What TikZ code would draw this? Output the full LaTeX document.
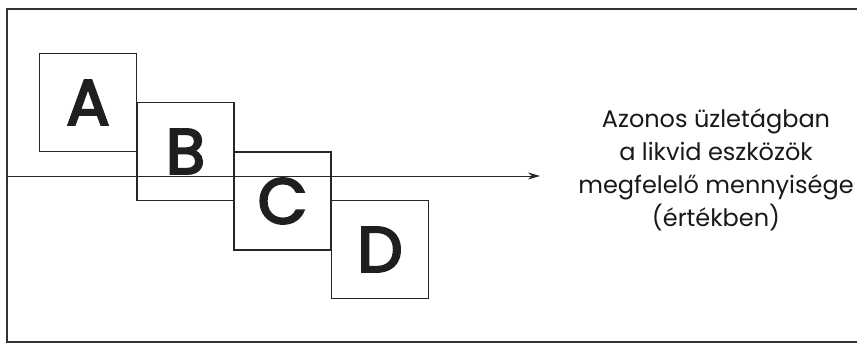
\documentclass[tikz,border=0pt]{standalone}
\usepackage{fontspec}
\setmainfont{Poppins}
\usetikzlibrary{arrows.meta}
\begin{document}
\begin{tikzpicture}[x=1pt,y=-1pt,
  sq/.style={draw=black!85,line width=1.2pt,minimum width=97pt,minimum height=98pt,inner sep=0pt,font=\fontsize{64}{64}\selectfont\addfontfeature{FakeBold=3.5},text=black!88},
  frame/.style={draw=black!80,line width=1.2pt}]
\useasboundingbox (0,0) rectangle (857,344);
\fill[white] (0,0) rectangle (857,344);
\draw[frame] (857,9) -- (7,9) -- (7,342) -- (857,342);
\node[sq,fill=white] (A) at (88,102.5) {A};
\node[sq] (B) at (185.5,151.5) {B};
\node[sq] (C) at (282.5,201) {C};
\node[sq] (D) at (380,249.5) {D};
\coordinate (s) at (7,176);
\coordinate (e) at (540,176);
\draw[line width=0.9pt,black!85,-{Stealth[length=12pt,width=7pt]}] (s) -- (e);
\node[align=center,font=\fontsize{24}{33}\selectfont,text=black!90,anchor=center] (T) at (716,170) {Azonos üzletágban\\a likvid eszközök\\megfelelő mennyisége\\(értékben)};
\end{tikzpicture}
\end{document}
